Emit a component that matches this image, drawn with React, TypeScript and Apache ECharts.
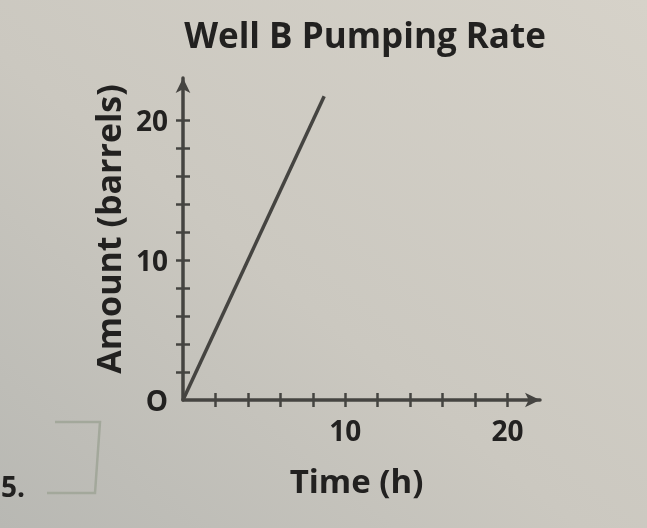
import React, { useEffect, useRef } from "react";
import * as echarts from "echarts";

const titleText = "Well B Pumping Rate";
const xName = "Time (h)";
const yName = "Amount (barrels)";
const xTicks = [2, 4, 6, 8, 10, 12, 14, 16, 18, 20];
const yTicks = [2, 4, 6, 8, 10, 12, 14, 16, 18, 20];
const xLabels = [10, 20];
const yLabels = [0, 10, 20];
const timeHours = [0, 8.7];
const amountBarrels = [0, 21.7];

export default function App() {
  const ref = useRef<HTMLDivElement>(null);
  useEffect(() => {
    if (!ref.current) return;
    const chart = echarts.init(ref.current, null, { renderer: "svg" });
    const ink = "#454441";
    const text = "#222120";
    const font = "Open Sans";
    const baseX = {
      type: "value",
      min: 0,
      max: 22,
      gridIndex: 0,
      position: "bottom",
      splitLine: { show: false },
    };
    const baseY = {
      type: "value",
      min: 0,
      max: 23,
      gridIndex: 0,
      position: "left",
      splitLine: { show: false },
    };
    chart.setOption({
      animation: false,
      backgroundColor: "transparent",
      title: {
        text: titleText,
        left: 360,
        textAlign: "center",
        top: 12,
        textStyle: { fontFamily: font, fontWeight: "bold", fontSize: 35, color: text },
      },
      grid: { left: 183, right: 107, top: 78, bottom: 128, containLabel: false },
      graphic: [
        {
          type: "rect",
          z: -10,
          shape: { x: 0, y: 0, width: 647, height: 528 },
          style: {
            fill: new echarts.graphic.LinearGradient(1, 0, 0, 1, [
              { offset: 0, color: "#d6d2c9" },
              { offset: 0.55, color: "#cbc8c0" },
              { offset: 1, color: "#b8b8b3" },
            ]),
          },
        },
        {
          type: "polyline",
          shape: { points: [[55, 422], [100, 422], [95, 493], [47, 493]] },
          style: { stroke: "#a3a89b", lineWidth: 2.5, fill: "none" },
        },
        {
          type: "text",
          x: 1,
          y: 472,
          style: { text: "5.", font: `bold 28px "${font}"`, fill: text },
        },
      ],
      xAxis: [
        {
          ...baseX,
          name: xName,
          nameLocation: "middle",
          nameGap: 64,
          nameTextStyle: { fontFamily: font, fontWeight: "bold", fontSize: 33, color: text, padding: [0, 10, 0, 0] },
          axisLine: {
            show: true,
            lineStyle: { color: ink, width: 3.5 },
            symbol: ["none", "arrow"],
            symbolSize: [11, 15],
          },
          axisTick: { show: true, customValues: xTicks, length: 7, lineStyle: { color: ink, width: 2.5 } },
          axisLabel: {
            customValues: xLabels,
            margin: 16,
            fontFamily: font,
            fontWeight: "bold",
            fontSize: 28,
            color: text,
          },
        },
        {
          ...baseX,
          axisLine: { show: false },
          axisTick: { show: true, inside: true, customValues: xTicks, length: 7, lineStyle: { color: ink, width: 2.5 } },
          axisLabel: { show: false },
        },
      ],
      yAxis: [
        {
          ...baseY,
          name: yName,
          nameLocation: "middle",
          nameRotate: 90,
          nameGap: 55,
          nameTextStyle: { fontFamily: font, fontWeight: "bold", fontSize: 34, color: text, padding: [0, 0, 0, 20] },
          axisLine: {
            show: true,
            lineStyle: { color: ink, width: 3.5 },
            symbol: ["none", "arrow"],
            symbolSize: [11, 15],
          },
          axisTick: { show: true, customValues: yTicks, length: 7, lineStyle: { color: ink, width: 2.5 } },
          axisLabel: {
            customValues: yLabels,
            margin: 15,
            fontFamily: font,
            fontWeight: "bold",
            fontSize: 28,
            color: text,
            formatter: (v: number) => (v === 0 ? "O" : String(v)),
          },
        },
        {
          ...baseY,
          axisLine: { show: false },
          axisTick: { show: true, inside: true, customValues: yTicks, length: 7, lineStyle: { color: ink, width: 2.5 } },
          axisLabel: { show: false },
        },
      ],
      series: [
        {
          type: "line",
          xAxisIndex: 0,
          yAxisIndex: 0,
          data: timeHours.map((t, i) => [t, amountBarrels[i]]),
          showSymbol: false,
          symbol: "none",
          lineStyle: { color: ink, width: 3.5 },
        },
      ],
    });
    return () => chart.dispose();
  }, []);
  return (
    <div
      ref={ref}
      style={{ position: "fixed", left: 0, top: 0, width: 647, height: 528 }}
    />
  );
}
